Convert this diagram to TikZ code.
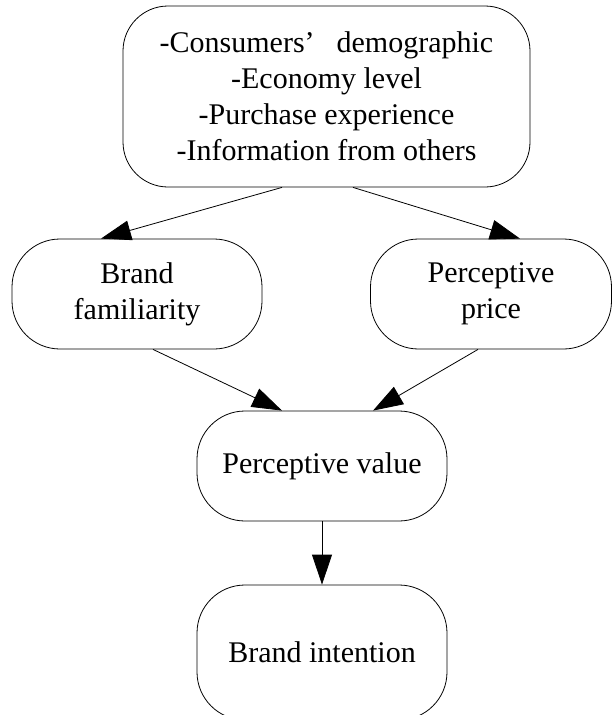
\documentclass[tikz,border=0pt]{standalone}
\usepackage{fontspec}
\setmainfont{Liberation Serif}
\usetikzlibrary{arrows.meta}

\tikzset{
  block/.style={draw, line width=0.8pt, rounded corners=48pt, align=center,
    inner sep=0pt, font=\fontsize{30}{36}\selectfont},
  flow/.style={-{Triangle[length=30pt,width=20pt]}, line width=0.8pt},
}

\begin{document}
\begin{tikzpicture}[x=1pt, y=-1pt]
\useasboundingbox (0,0) rectangle (613,715);
\clip (0,0) rectangle (613,715);
% boxes
\node[block, minimum width=407pt, minimum height=181pt, rounded corners=45pt] (factors) at (326.5,96.5)
  {-Consumers’\hspace{22pt}demographic\\-Economy level\\-Purchase experience\\-Information from others};
\node[block, minimum width=250pt, minimum height=110pt] (familiar) at (137,294) {Brand\\familiarity};
\node[block, minimum width=241pt, minimum height=110pt] (price) at (491,294) {Perceptive\\price};
\node[block, minimum width=250pt, minimum height=110pt] (value) at (322,466) {Perceptive value};
\node[block, minimum width=250pt, minimum height=135pt] (intention) at (322,652.5) {Brand intention};
% connectors
\draw[flow] ([xshift=-44.5pt]factors.south) -- ([xshift=-36pt]familiar.north);
\draw[flow] ([xshift=26.5pt]factors.south) -- ([xshift=29pt]price.north);
\draw[flow] ([xshift=16pt]familiar.south) -- ([xshift=-40pt]value.north);
\draw[flow] ([xshift=-13pt]price.south) -- ([xshift=51pt]value.north);
\draw[flow] (value) -- (intention);
\end{tikzpicture}
\end{document}
